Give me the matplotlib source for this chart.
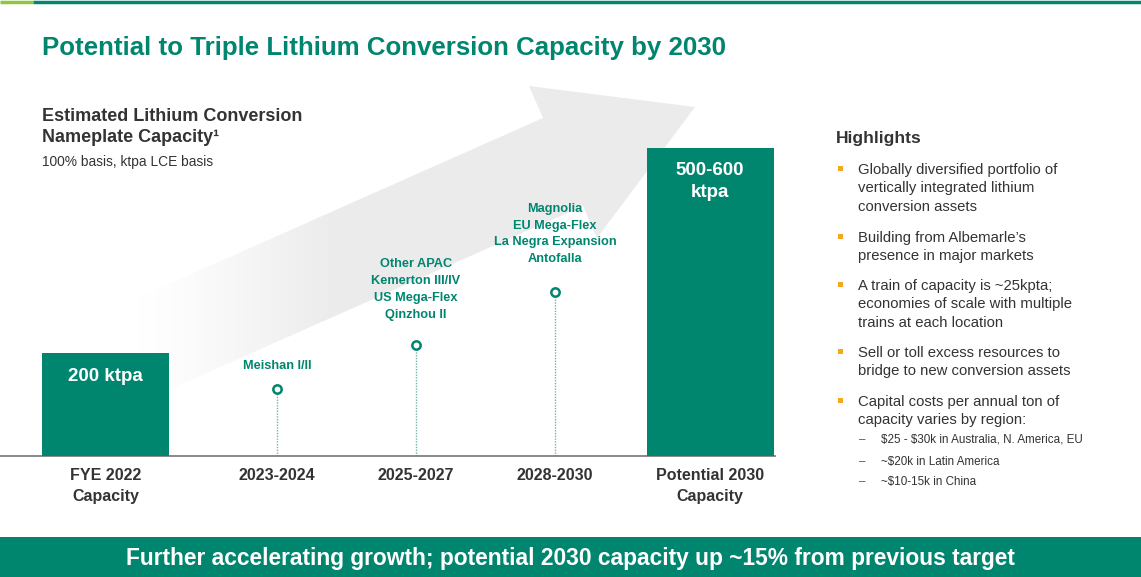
import numpy as np
import matplotlib
matplotlib.use("Agg")
import matplotlib.pyplot as plt
from matplotlib.patches import Polygon, Rectangle

plt.rcParams["font.family"] = ["Liberation Sans", "DejaVu Sans"]

# chart values (ktpa)
categories = ["FYE 2022\nCapacity", "2023-2024", "2025-2027", "2028-2030", "Potential 2030\nCapacity"]
bar_values = [200, 600]
bar_labels = ["200 ktpa", "500-600\nktpa"]
milestone_values = [130, 215, 320]
milestone_labels = ["Meishan I/II",
                    "Other APAC\nKemerton III/IV\nUS Mega-Flex\nQinzhou II",
                    "Magnolia\nEU Mega-Flex\nLa Negra Expansion\nAntofalla"]

highlights = [
    "Globally diversified portfolio of\nvertically integrated lithium\nconversion assets",
    "Building from Albemarle\u2019s\npresence in major markets",
    "A train of capacity is ~25kpta;\neconomies of scale with multiple\ntrains at each location",
    "Sell or toll excess resources to\nbridge to new conversion assets",
    "Capital costs per annual ton of\ncapacity varies by region:",
]
sub_points = ["\\$25 - \\$30k in Australia, N. America, EU",
              "~\\$20k in Latin America",
              "~\\$10-15k in China"]

TEAL = "#00856F"
DARK = "#333333"
ORANGE = "#F5A623"

W, H = 1141, 577
fig = plt.figure(figsize=(W / 100, H / 100), dpi=100)
fig.patch.set_facecolor("white")

# background canvas in pixel coordinates
bg = fig.add_axes([0, 0, 1, 1])
bg.set_xlim(0, W)
bg.set_ylim(H, 0)
bg.axis("off")

# top rule
bg.plot([0, 33], [1.5, 1.5], color="#8DC63F", lw=2.5, solid_capstyle="butt")
bg.plot([33, W], [1.5, 1.5], color=TEAL, lw=2.5, solid_capstyle="butt")

# big grey arrow with fade
arrow_pts = [(117, 307), (543, 118), (529, 86), (695, 107), (597, 238), (583, 206), (157, 395)]
arrow = Polygon(arrow_pts, closed=True, facecolor="none", edgecolor="none")
bg.add_patch(arrow)
gx = np.linspace(100, 720, 400)
fade = np.clip((gx - 135) / 200, 0, 1) ** 1.3
img = np.ones((10, gx.size, 4))
img[..., :3] = 0.925
img[..., 3] = fade[None, :]
im = bg.imshow(img, extent=[100, 720, 420, 80], aspect="auto", interpolation="bilinear", zorder=0)
im.set_clip_path(arrow)

# bottom banner
bg.add_patch(Rectangle((0, 537), W, 40, facecolor=TEAL, edgecolor="none"))
bg.text(570, 558, "Further accelerating growth; potential 2030 capacity up ~15% from previous target",
        ha="center", va="center", color="white", fontsize=16.4, fontweight="bold")

# titles
bg.text(42, 48, "Potential to Triple Lithium Conversion Capacity by 2030", ha="left", va="center",
        color=TEAL, fontsize=18.6, fontweight="bold")
bg.text(42, 127, "Estimated Lithium Conversion\nNameplate Capacity\u00b9", ha="left", va="center",
        color=DARK, fontsize=13, fontweight="bold", linespacing=1.38)
bg.text(42, 162, "100% basis, ktpa LCE basis", ha="left", va="center", color=DARK, fontsize=9.9)

# highlights panel
bg.text(836, 138, "Highlights", ha="left", va="center", color=DARK, fontsize=12.5, fontweight="bold")
first_rows = [169, 237, 285, 352, 401]
for row, txt in zip(first_rows, highlights):
    bg.add_patch(Rectangle((838, row - 3), 5, 5, facecolor=ORANGE, edgecolor="none"))
    bg.text(858, row - 6, txt, ha="left", va="top", color=DARK, fontsize=10.7, linespacing=1.4)
for row, txt in zip([440, 462, 482], sub_points):
    bg.text(859, row, "\u2013", ha="left", va="center", color=TEAL, fontsize=8.4)
    bg.text(881, row, txt, ha="left", va="center", color=DARK, fontsize=8.4)

# chart axes
x_pos = [0, 1.234, 2.234, 3.234, 4.35]
ax = fig.add_axes([0, 121 / H, 775 / W, 376 / H])
ax.patch.set_alpha(0)
ax.set_xlim(-105.5 / 139, (775 - 105.5) / 139)
ax.set_ylim(0, 731.5)

bar_x = [x_pos[0], x_pos[-1]]
ax.bar(bar_x, bar_values, width=0.914, color=TEAL, zorder=3)
ax.annotate(bar_labels[0], (bar_x[0], bar_values[0]), xytext=(0, -23), textcoords="offset pixels",
            ha="center", va="center", color="white", fontsize=13.5, fontweight="bold", zorder=4)
ax.annotate(bar_labels[1], (bar_x[1], bar_values[1]), xytext=(0, -34), textcoords="offset pixels",
            ha="center", va="center", color="white", fontsize=13.5, fontweight="bold",
            linespacing=1.4, zorder=4)

ms_x = x_pos[1:4]
ax.vlines(ms_x, 0, milestone_values, colors="#6DB8AC", linestyles=(0, (1, 1)), lw=1, zorder=2)
ax.plot(ms_x, milestone_values, "o", ms=6, mfc="white", mec=TEAL, mew=1.8, zorder=3)
offsets = [23, 56, 57.5]
for x, v, lab, off in zip(ms_x, milestone_values, milestone_labels, offsets):
    ax.annotate(lab, (x, v), xytext=(0, off), textcoords="offset pixels", ha="center", va="center",
                color=TEAL, fontsize=9.2, fontweight="bold", linespacing=1.55)

ax.set_xticks(x_pos, labels=categories)
for t in ax.get_xticklabels():
    t.set_fontweight("bold")
    t.set_color(DARK)
    t.set_fontsize(11.5)
    t.set_linespacing(1.5)
ax.tick_params(axis="x", length=0, pad=9)
ax.set_yticks([])
for s in ["top", "left", "right"]:
    ax.spines[s].set_visible(False)
ax.spines["bottom"].set_color("#808080")
ax.spines["bottom"].set_linewidth(1.3)

fig.savefig("out.png", dpi=100, facecolor="white")
